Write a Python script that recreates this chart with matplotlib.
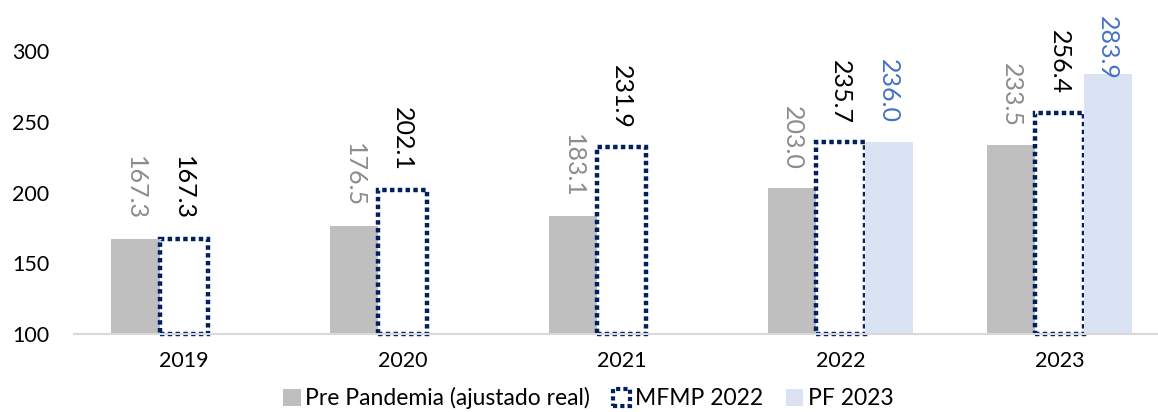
import numpy as np
import matplotlib
matplotlib.use('Agg')
import matplotlib.pyplot as plt
from matplotlib.patches import Patch

plt.rcParams['font.family'] = ['Lato', 'DejaVu Sans']

years = ['2019', '2020', '2021', '2022', '2023']
pre_pandemia = [167.3, 176.5, 183.1, 203.0, 233.5]
mfmp_2022 = [167.3, 202.1, 231.9, 235.7, 256.4]
pf_2023 = [None, None, None, 236.0, 283.9]

c_gray = '#BFBFBF'
c_navy = '#002060'
c_light = '#DAE3F3'

fig = plt.figure(figsize=(11.58, 4.12), dpi=100)
ax = fig.add_axes([0.064, 0.189, 0.936, 0.811])

x = np.arange(len(years))
w = 0.22
base = 100
ymax = 336

ax.bar(x - w, [v - base for v in pre_pandemia], w, bottom=base, color=c_gray)
bars = ax.bar(x, [v - base for v in mfmp_2022], w, bottom=base,
              facecolor='none', edgecolor=c_navy, linewidth=3.2,
              linestyle=(0, (1, 0.75)))
for b in bars:
    b.set_clip_on(False)
pf_x = [i + w for i, v in enumerate(pf_2023) if v is not None]
pf_v = [v for v in pf_2023 if v is not None]
ax.bar(pf_x, [v - base for v in pf_v], w, bottom=base, color=c_light)

# etiquetas de datos (verticales)
def label(xs, vals, color):
    for xi, v in zip(xs, vals):
        if v is None:
            continue
        y = v + 13
        if y + 45 > 325:
            ax.text(xi, 325, f'{v:.1f}', rotation=270, ha='center', va='top',
                    fontsize=18, color=color)
        else:
            ax.text(xi, y, f'{v:.1f}', rotation=270, ha='center', va='bottom',
                    fontsize=18, color=color)

label(x - w, pre_pandemia, '#8C8C8C')
label(x, mfmp_2022, 'black')
label(pf_x, pf_v, '#4472C4')

ax.set_ylim(base, ymax)
ax.set_xlim(-0.5, 4.45)
ax.set_yticks([100, 150, 200, 250, 300])
ax.set_xticks(x)
ax.set_xticklabels(years)
ax.tick_params(length=0, labelsize=15.5)
ax.tick_params(axis='x', pad=12)
ax.tick_params(axis='y', pad=18)
for s in ['top', 'right', 'left']:
    ax.spines[s].set_visible(False)
ax.spines['bottom'].set_color('#D9D9D9')
ax.spines['bottom'].set_linewidth(1.5)

handles = [Patch(facecolor=c_gray, edgecolor='none'),
           Patch(facecolor='none', edgecolor=c_navy, linewidth=3, linestyle=(0, (1, 0.75))),
           Patch(facecolor=c_light, edgecolor='none')]
fig.legend(handles, ['Pre Pandemia (ajustado real)', 'MFMP 2022', 'PF 2023'],
           loc='center', bbox_to_anchor=(0.508, 0.033), ncol=3, frameon=False,
           fontsize=16.5, handlelength=0.75, handleheight=0.75, handletextpad=0.2,
           columnspacing=1.0)

fig.savefig('out.png', dpi=100)
